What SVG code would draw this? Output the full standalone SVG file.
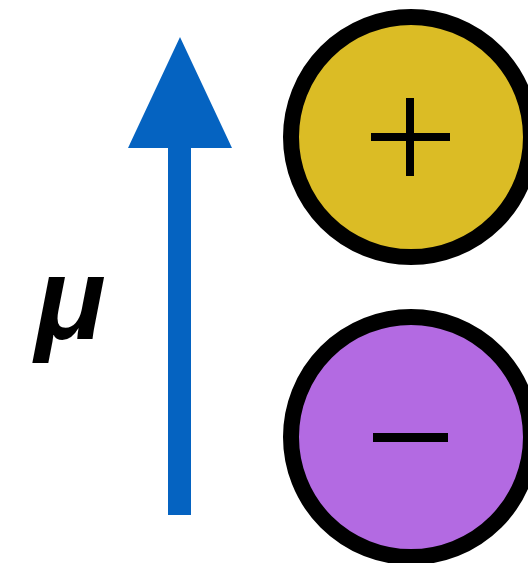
<svg xmlns="http://www.w3.org/2000/svg" width="528" height="563" viewBox="0 0 528 563">
<style>
.ring{stroke:#000;stroke-width:16}
.sign{fill:#000}
.lbl{font-family:"Liberation Sans",Arial,sans-serif;font-weight:bold;font-style:italic;fill:#000}
</style>
<rect width="528" height="563" fill="#fff"/>
<g id="connectors">
<g id="arrow-mu">
<rect x="168" y="140" width="23" height="375" fill="#0563C1"/>
<polygon points="180,37 232,148 128,148" fill="#0563C1"/>
</g>
</g>
<g id="label-mu">
<text class="lbl" x="35" y="339" font-size="117">μ</text>
</g>
<g id="positive">
<circle class="ring" cx="411" cy="137" r="120" fill="#DBBC25"/>
<rect class="sign" x="371" y="133" width="79" height="8"/>
<rect class="sign" x="406" y="98" width="8" height="78"/>
</g>
<g id="negative">
<circle class="ring" cx="411" cy="437" r="120" fill="#B36AE2"/>
<rect class="sign" x="373" y="433" width="75" height="9"/>
</g>
</svg>
